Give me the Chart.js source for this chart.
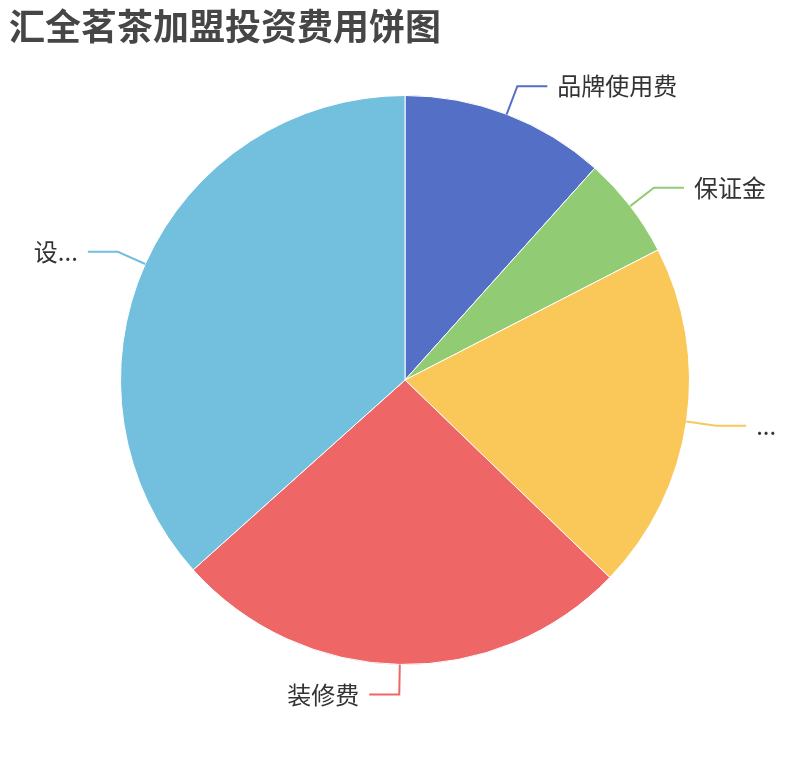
<!DOCTYPE html>
<html>
<head>
<meta charset="utf-8">
<script src="https://cdn.jsdelivr.net/npm/chart.js@4/dist/chart.umd.min.js"></script>
<style>
html,body{margin:0;padding:0;background:#fff;}
#wrap{width:810px;height:760px;}
</style>
</head>
<body>
<div id="wrap"><canvas id="c" width="810" height="760"></canvas></div>
<script>
const titleText = '汇全茗茶加盟投资费用饼图';
const categories = ['品牌使用费', '保证金', '...', '装修费', '设...'];
const values = [2, 1, 3.4, 4.5, 6.3];
const colors = ['#5470c6', '#91cc75', '#fac858', '#ee6666', '#73c0de'];

const FONT = '"Noto Sans CJK SC", "Noto Sans", sans-serif';

const labelPlugin = {
  id: 'pieLabels',
  afterDraw(chart) {
    const ctx = chart.ctx;
    // title
    ctx.save();
    ctx.fillStyle = '#464646';
    ctx.font = 'bold 36px ' + FONT;
    ctx.textAlign = 'left';
    ctx.textBaseline = 'middle';
    ctx.fillText(titleText, 9, 26);
    ctx.restore();

    const meta = chart.getDatasetMeta(0);
    meta.data.forEach((arc, i) => {
      const p = arc.getProps(['x', 'y', 'startAngle', 'endAngle', 'outerRadius'], true);
      const mid = (p.startAngle + p.endAngle) / 2;
      const cos = Math.cos(mid), sin = Math.sin(mid);
      const x0 = p.x + cos * p.outerRadius;
      const y0 = p.y + sin * p.outerRadius;
      const x1 = p.x + cos * (p.outerRadius + 30);
      const y1 = p.y + sin * (p.outerRadius + 30);
      const right = cos >= 0;
      const x2 = x1 + (right ? 30 : -30);
      ctx.save();
      ctx.strokeStyle = colors[i];
      ctx.lineWidth = 2;
      ctx.beginPath();
      ctx.moveTo(x0, y0);
      ctx.lineTo(x1, y1);
      ctx.lineTo(x2, y1);
      ctx.stroke();
      ctx.fillStyle = '#333333';
      ctx.font = '24px ' + FONT;
      ctx.textBaseline = 'middle';
      ctx.textAlign = right ? 'left' : 'right';
      ctx.fillText(categories[i], x2 + (right ? 10 : -10), y1);
      ctx.restore();
    });
  }
};

new Chart(document.getElementById('c'), {
  type: 'pie',
  data: {
    labels: categories,
    datasets: [{
      data: values,
      backgroundColor: colors,
      borderColor: '#ffffff',
      borderWidth: 1
    }]
  },
  options: {
    responsive: false,
    animation: false,
    layout: { padding: { left: 120, right: 120, top: 95, bottom: 95 } },
    plugins: {
      legend: { display: false },
      tooltip: { enabled: false },
      title: { display: false }
    }
  },
  plugins: [labelPlugin]
});
</script>
</body>
</html>
